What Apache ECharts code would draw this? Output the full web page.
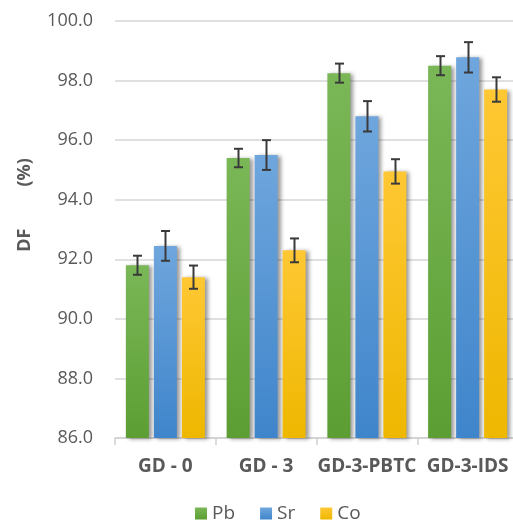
<!DOCTYPE html>
<html>
<head>
<meta charset="utf-8">
<script src="https://cdn.jsdelivr.net/npm/echarts@6/dist/echarts.min.js"></script>
<style>
  html, body { margin: 0; padding: 0; background: #fff; }
  #chart { width: 513px; height: 520px; }
</style>
</head>
<body>
<div id="chart"></div>
<script>
// Decontamination factor (%) per adsorbent, with standard deviations
const categories = ['GD - 0', 'GD - 3', 'GD-3-PBTC', 'GD-3-IDS'];
const seriesNames = ['Pb', 'Sr', 'Co'];
const pbValues = [91.8, 95.4, 98.25, 98.5];
const srValues = [92.45, 95.5, 96.8, 98.78];
const coValues = [91.4, 92.3, 94.95, 97.7];
const pbErrors = [0.32, 0.31, 0.32, 0.32];
const srErrors = [0.5, 0.5, 0.51, 0.51];
const coErrors = [0.39, 0.4, 0.41, 0.41];
const yTicks = { min: 86, max: 100, step: 2 };

const BAR_W = 23;
const BAR_GAP = 5;
const TEXT = '#595959';
const FONT = 'Open Sans';

const palette = [
  ['#7ab757', '#5c9e33'],
  ['#6fa6dd', '#3f85cb'],
  ['#ffc834', '#eeb700']
];

function grad(c) {
  return new echarts.graphic.LinearGradient(0, 0, 0, 1, [
    { offset: 0, color: c[0] },
    { offset: 1, color: c[1] }
  ]);
}

const valueSets = [pbValues, srValues, coValues];
const errorSets = [pbErrors, srErrors, coErrors];

const series = [];
seriesNames.forEach((name, i) => {
  series.push({
    name: name,
    type: 'bar',
    data: valueSets[i],
    barWidth: BAR_W,
    barGap: (BAR_GAP / BAR_W * 100) + '%',
    itemStyle: {
      color: grad(palette[i]),
      shadowColor: 'rgba(0,0,0,0.4)',
      shadowBlur: 4,
      shadowOffsetX: 3,
      shadowOffsetY: 1
    },
    z: 2
  });
});

// Error bars drawn at each bar's centre
seriesNames.forEach((name, i) => {
  const offset = (i - 1) * (BAR_W + BAR_GAP);
  series.push({
    type: 'custom',
    name: name + ' err',
    z: 5,
    silent: true,
    data: valueSets[i].map((v, k) => [k, v - errorSets[i][k], v + errorSets[i][k]]),
    renderItem: function (params, api) {
      const lo = api.coord([api.value(0), api.value(1)]);
      const hi = api.coord([api.value(0), api.value(2)]);
      const x = Math.round(lo[0] + offset) + 0.5;
      const cap = 4.5;
      const style = { stroke: '#3a3a3a', lineWidth: 2, fill: null };
      return {
        type: 'group',
        children: [
          { type: 'line', shape: { x1: x, y1: hi[1], x2: x, y2: lo[1] }, style: style },
          { type: 'line', shape: { x1: x - cap, y1: hi[1], x2: x + cap, y2: hi[1] }, style: style },
          { type: 'line', shape: { x1: x - cap, y1: lo[1], x2: x + cap, y2: lo[1] }, style: style }
        ]
      };
    }
  });
});

const chart = echarts.init(document.getElementById('chart'), null, { renderer: 'canvas' });
chart.setOption({
  animation: false,
  backgroundColor: '#ffffff',
  grid: { left: 115, right: -5, top: 21, bottom: 82, containLabel: false, outerBoundsMode: 'none' },
  legend: {
    data: seriesNames,
    left: 195,
    top: 504,
    padding: 0,
    itemWidth: 12,
    itemHeight: 12,
    itemGap: 25,
    icon: 'rect',
    textStyle: { color: TEXT, fontFamily: FONT, fontSize: 19 }
  },
  xAxis: {
    type: 'category',
    data: categories,
    axisLine: { lineStyle: { color: '#d0d0d0', width: 1.5 } },
    axisTick: { show: true, length: 7, lineStyle: { color: '#d0d0d0', width: 1.5 } },
    axisLabel: { color: TEXT, fontFamily: FONT, fontSize: 19, fontWeight: 'bold', margin: 19, hideOverlap: false, interval: 0 }
  },
  yAxis: {
    type: 'value',
    min: yTicks.min,
    max: yTicks.max,
    interval: yTicks.step,
    name: 'DF         (%)',
    nameLocation: 'middle',
    nameGap: 81,
    nameRotate: 90,
    nameTextStyle: { color: TEXT, fontFamily: FONT, fontSize: 18, fontWeight: 'bold', padding: [0, 0, 0, 49] },
    axisLine: { show: false },
    axisTick: { show: false },
    splitLine: { lineStyle: { color: '#d6d6d6', width: 1.5 } },
    axisLabel: { color: TEXT, fontFamily: FONT, fontSize: 18, margin: 22, formatter: v => v.toFixed(1) }
  },
  series: series
});
</script>
</body>
</html>
